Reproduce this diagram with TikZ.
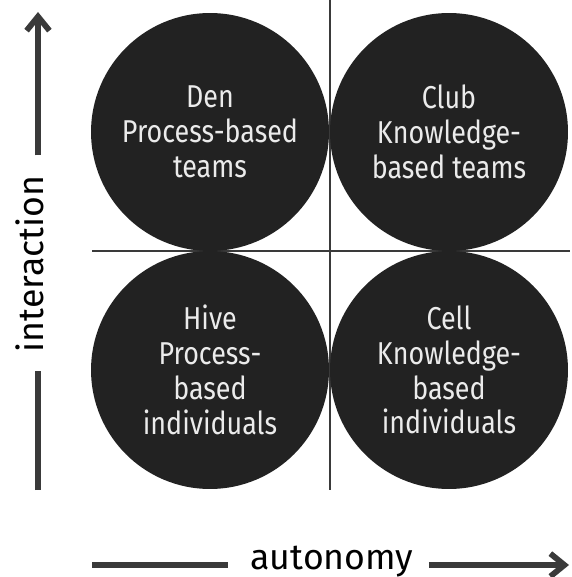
\documentclass[tikz,border=0pt]{standalone}
\usepackage{fontspec}
\setmainfont{Fira Sans}
\newfontfamily\quadfont[FakeStretch=0.85]{Fira Sans}
\usepackage{tikz}
\usetikzlibrary{arrows.meta, positioning}
\definecolor{ink}{HTML}{222222}
\definecolor{rule}{HTML}{3A3A3A}
\definecolor{paper}{HTML}{EBEBEB}
\tikzset{
    quad/.style={circle, fill=ink, text=paper, align=center, inner sep=0pt, minimum size=4.76cm, font=\quadfont\fontsize{18}{19.8}\selectfont},
    axislabel/.style={text=black, inner sep=0pt, font=\fontsize{20.3}{22}\selectfont},
    axisline/.style={draw=rule, line width=3.3pt},
    axisarr/.style={axisline, -{Straight Barb[length=8pt, width=13pt]}},
    divider/.style={draw=rule, line width=0.8pt}
}

\begin{document}
\begin{tikzpicture}[x=0.02cm, y=-0.02cm]
    \useasboundingbox (0,0) rectangle (571,577);

    % quadrant dividers
    \draw[divider] (330,0) -- (330,490);
    \draw[divider] (92,251) -- (570,251);

    % the four quadrants
    \node[quad] (den)  at (210,132) {Den\\Process-based\\teams};
    \node[quad] (club) at (449,132) {Club\\Knowledge-\\based teams};
    \node[quad] (hive) at (210,370) {Hive\\Process-\\based\\individuals};
    \node[quad] (cell) at (449,370) {Cell\\Knowledge-\\based\\individuals};

    % axes
    \node[axislabel, rotate=90, anchor=base] (inter) at (43,264) {interaction};
    \node[axislabel, anchor=base] (auto) at (332,569) {autonomy};
    \coordinate (ybot) at (38,490);
    \coordinate (ytop) at (38,12);
    \coordinate (xleft) at (92,565);
    \coordinate (xright) at (569,565);
    \draw[axisline] (ybot) -- ([yshift=-0.36cm]ybot |- inter.west);
    \draw[axisarr] ([yshift=0.4cm]ytop |- inter.east) -- (ytop);
    \draw[axisline] (xleft) -- ([xshift=-0.44cm]xleft -| auto.west);
    \draw[axisarr] ([xshift=0.3cm]xright -| auto.east) -- (xright);
\end{tikzpicture}
\end{document}
